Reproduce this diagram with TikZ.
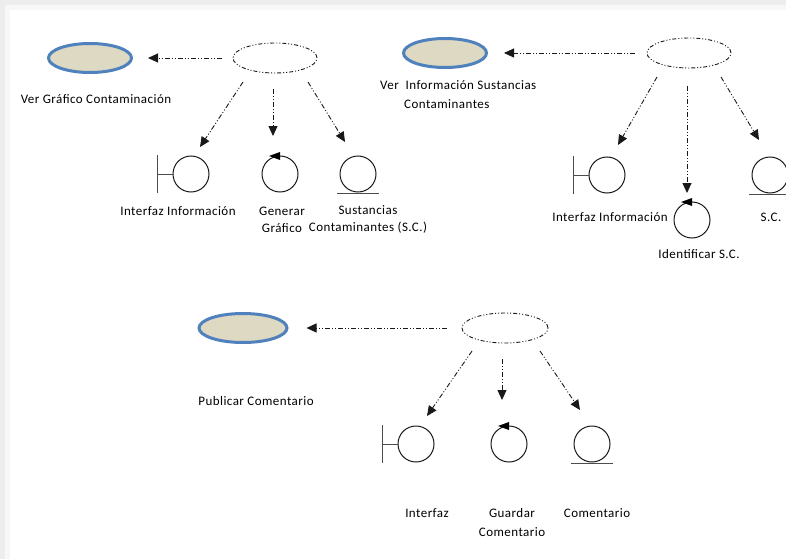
\documentclass[tikz,border=0pt]{standalone}
\usepackage{fontspec}
\setmainfont{Carlito}[LetterSpace=3.5]
\usepackage{tikz}
\usetikzlibrary{arrows.meta,shapes.geometric}

\definecolor{ucblue}{RGB}{79,129,189}
\definecolor{uctan}{RGB}{221,217,195}

\begin{document}
\begin{tikzpicture}[x=1pt,y=-1pt,
    ucase/.style={ellipse,draw=ucblue,fill=uctan,line width=3pt,minimum width=83pt,minimum height=29pt,inner sep=0pt},
    collab/.style={ellipse,draw=black!90,line width=0.9pt,dash pattern=on 4pt off 2pt on 1pt off 2pt on 1pt off 2pt,minimum width=84pt,minimum height=30pt,inner sep=0pt},
    link/.style={draw=black!90,line width=0.9pt,dash pattern=on 5pt off 2pt on 1pt off 2pt on 1pt off 2pt,-{Triangle[length=10pt,width=9pt]}},
    icon/.style={circle,draw=black!90,line width=1pt,minimum size=36pt,inner sep=0pt},
    iconline/.style={draw=black!70,line width=1pt},
    lbl/.style={font=\fontsize{13}{17}\selectfont,align=center,inner sep=0pt,text=black}]
        % Page and shadow
        \useasboundingbox (0,0) rectangle (786,559);
        \fill[black!7] (0,0) rectangle (786,559);
        \fill[black!3] (5,5) rectangle (786,559);
        \fill[white] (10,10) rectangle (786,559);
        % Use cases
        \node[ucase] (u1) at (90,58) {};
        \node[ucase] (u2) at (445,53) {};
        \node[ucase,minimum width=88pt] (u3) at (243,328) {};
        % Collaborations
        \node[collab] (k1) at (275,58) {};
        \node[collab] (k2) at (689,53) {};
        \node[collab,minimum width=86pt] (k3) at (505,328) {};
        % Boundary, control and entity objects
        \node[icon] (b1) at (191,174) {};
        \node[icon] (c1) at (280,174) {};
        \node[icon] (e1) at (358,174) {};
        \node[icon] (b2) at (607,175) {};
        \node[icon] (c2) at (692,220) {};
        \node[icon] (e2) at (770,175) {};
        \node[icon] (b3) at (416,444) {};
        \node[icon] (c3) at (509,444) {};
        \node[icon] (e3) at (592,444) {};
        \foreach \b in {b1,b2,b3} {
            \draw[iconline] (\b.west) -- ++(-15,0) ++(0,-19) -- ++(0,38);
        }
        \foreach \c in {c1,c2,c3} {
            \fill[black] ([shift={(-11,-18)}]\c.center) -- ([shift={(0,-22)}]\c.center) -- ([shift={(0,-14)}]\c.center) -- cycle;
        }
        \foreach \e in {e1,e2,e3} {
            \draw[iconline] ([shift={(-21,1)}]\e.south) -- ([shift={(21,1)}]\e.south);
        }
        % Links to use cases
        \draw[link,shorten <=11pt,shorten >=15pt] (k1) -- (u1);
        \draw[link,shorten <=12pt,shorten >=16pt] (k2) -- (u2);
        \draw[link,shorten <=15pt,shorten >=18pt] (k3) -- (u3);
        % Links to objects
        \draw[link] ([shift={(-32,24)}]k1.center) -- ([shift={(9,-27)}]b1.center);
        \draw[link] ([shift={(-2,31)}]k1.center) -- ([shift={(-7,-38)}]c1.center);
        \draw[link] ([shift={(33,24)}]k1.center) -- ([shift={(-13,-32)}]e1.center);
        \draw[link] ([shift={(-32,24)}]k2.center) -- ([shift={(11,-30)}]b2.center);
        \draw[link] ([shift={(-2,33)}]k2.center) -- ([shift={(-5,-27)}]c2.center);
        \draw[link] ([shift={(32,24)}]k2.center) -- ([shift={(-11,-35)}]e2.center);
        \draw[link] ([shift={(-33,23)}]k3.center) -- ([shift={(11,-28)}]b3.center);
        \draw[link] ([shift={(-3,31)}]k3.center) -- ([shift={(-7,-44)}]c3.center);
        \draw[link] ([shift={(35,23)}]k3.center) -- ([shift={(-12,-34)}]e3.center);
        % Labels
        \node[lbl] (t1) at (96,99) {Ver Gráfico Contaminación};
        \node[lbl] (tb1) at (178,211) {Interfaz Información};
        \node[lbl] (tc1) at (282,219.5) {Generar\\Gráfico};
        \node[lbl] (te1) at (368,219.5) {Sustancias\\Contaminantes (S.C.)};
        \node[lbl,align=left,anchor=west] (t2) at (380,94.5) {Ver\ \ Información Sustancias\\[2pt]\hspace*{24pt}Contaminantes};
        \node[lbl] (tb2) at (610,217) {Interfaz Información};
        \node[lbl] (tc2) at (699,254) {Identificar S.C.};
        \node[lbl] (te2) at (771,217) {S.C.};
        \node[lbl] (t3) at (256,401) {Publicar Comentario};
        \node[lbl] (tb3) at (427,513) {Interfaz};
        \node[lbl] (tc3) at (512,522.5) {Guardar\\[2pt]Comentario};
        \node[lbl] (te3) at (597,513) {Comentario};
\end{tikzpicture}
\end{document}
